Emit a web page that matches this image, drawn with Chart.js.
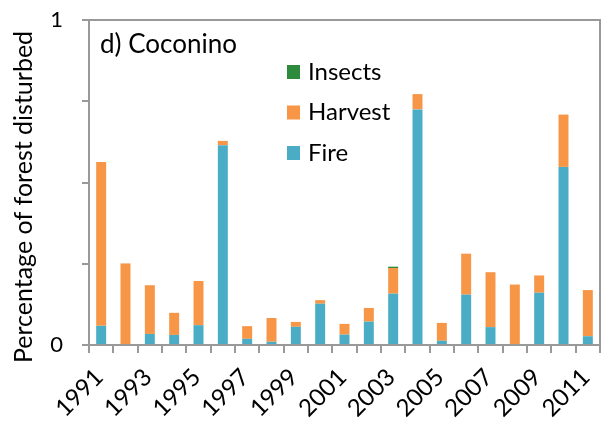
<!DOCTYPE html>
<html>
<head>
<meta charset="utf-8">
<script src="https://cdn.jsdelivr.net/npm/chart.js@4.4.1/dist/chart.umd.min.js"></script>
<style>
html, body { margin: 0; padding: 0; background: #fff; }
</style>
</head>
<body>
<canvas id="chart" width="601" height="424"></canvas>
<script>
const years = ['1991', '1992', '1993', '1994', '1995', '1996', '1997', '1998', '1999', '2000',
    '2001', '2002', '2003', '2004', '2005', '2006', '2007', '2008', '2009', '2010', '2011'];
const fire = [0.059, 0, 0.034, 0.031, 0.061, 0.615, 0.019, 0.010, 0.056, 0.127,
    0.032, 0.072, 0.158, 0.725, 0.013, 0.155, 0.055, 0.002, 0.161, 0.548, 0.027];
const harvest = [0.504, 0.251, 0.150, 0.068, 0.136, 0.013, 0.039, 0.073, 0.015, 0.011,
    0.033, 0.042, 0.079, 0.047, 0.055, 0.126, 0.169, 0.184, 0.053, 0.161, 0.142];
const insects = [0, 0, 0, 0, 0, 0, 0, 0, 0, 0,
    0, 0, 0.004, 0, 0, 0, 0, 0, 0, 0, 0];
const yLabeledTicks = [0, 1];

const axisGray = '#999999';
const font = 'Lato, "Open Sans", sans-serif';

// frame, panel label, legend and y title drawn inside the plot like the original
const extras = {
    id: 'extras',
    afterDraw(chart) {
        const { ctx, chartArea: a } = chart;
        ctx.save();
        ctx.strokeStyle = axisGray;
        ctx.lineWidth = 2;
        ctx.beginPath();
        ctx.moveTo(a.left, a.top);
        ctx.lineTo(a.right, a.top);
        ctx.lineTo(a.right, a.bottom);
        ctx.stroke();

        ctx.fillStyle = '#000';
        ctx.font = '26px ' + font;
        ctx.textBaseline = 'middle';
        ctx.textAlign = 'left';
        ctx.fillText('d) Coconino', 100, 45);

        const order = [2, 1, 0];
        order.forEach((di, i) => {
            const ds = chart.data.datasets[di];
            const y = 72 + i * 40.5;
            ctx.fillStyle = ds.backgroundColor;
            ctx.fillRect(287, y - 7, 13, 14);
            ctx.fillStyle = '#000';
            ctx.font = '24px ' + font;
            ctx.fillText(ds.label, 308, y);
        });

        ctx.translate(24, 197);
        ctx.rotate(-Math.PI / 2);
        ctx.textAlign = 'center';
        ctx.font = '25px ' + font;
        ctx.fillText('Percentage of forest disturbed', 0, 0);
        ctx.restore();
    }
};

new Chart(document.getElementById('chart'), {
    type: 'bar',
    data: {
        labels: years,
        datasets: [
            { label: 'Fire', data: fire, backgroundColor: '#4BACC6' },
            { label: 'Harvest', data: harvest, backgroundColor: '#F79646' },
            { label: 'Insects', data: insects, backgroundColor: '#2E8B3E' }
        ]
    },
    options: {
        responsive: false,
        animation: false,
        layout: { padding: { top: 20, right: 1, left: 0, bottom: 0 } },
        datasets: { bar: { categoryPercentage: 1, barPercentage: 0.41 } },
        plugins: {
            legend: { display: false },
            title: { display: false },
            tooltip: { enabled: false }
        },
        scales: {
            x: {
                stacked: true,
                afterFit(scale) {
                    scale.height = 79;
                    scale.paddingLeft = 0;
                    scale.paddingRight = 0;
                },
                border: { color: axisGray, width: 2 },
                grid: { offset: true, drawOnChartArea: false, tickLength: 8, color: axisGray, lineWidth: 2 },
                ticks: {
                    autoSkip: false,
                    maxRotation: 45,
                    minRotation: 45,
                    color: '#000',
                    padding: 10,
                    labelOffset: -2,
                    font: { family: font, size: 24 },
                    callback(value, index) { return index % 2 === 0 ? years[index] : ''; }
                }
            },
            y: {
                stacked: true,
                min: 0,
                max: 1,
                afterFit(scale) {
                    scale.width = 89;
                    scale.paddingTop = 0;
                    scale.paddingBottom = 0;
                },
                border: { color: axisGray, width: 2 },
                grid: { drawOnChartArea: false, tickLength: 7, color: axisGray, lineWidth: 2 },
                ticks: {
                    stepSize: 0.25,
                    color: '#000',
                    padding: 19,
                    font: { family: font, size: 22 },
                    callback(value) { return yLabeledTicks.includes(value) ? String(value) : ''; }
                }
            }
        }
    },
    plugins: [extras]
});
</script>
</body>
</html>
